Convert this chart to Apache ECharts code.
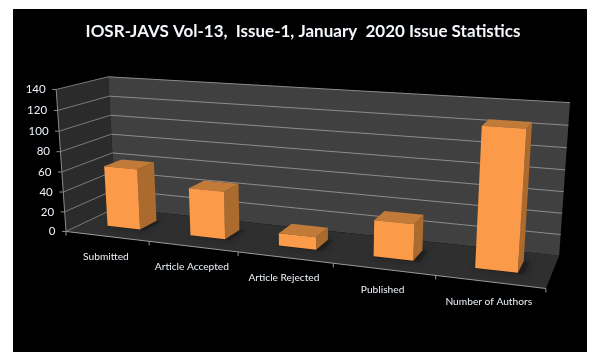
<!DOCTYPE html>
<html><head><meta charset="utf-8">
<style>html,body{margin:0;padding:0;background:#fff}#c{width:601px;height:363px}</style>
<script src="https://cdn.jsdelivr.net/npm/echarts@6/dist/echarts.min.js"></script>
</head><body><div id="c"></div>
<script>
var titleText = 'IOSR-JAVS Vol-13,  Issue-1, January  2020 Issue Statistics';
var categories = ['Submitted','Article Accepted','Article Rejected','Published','Number of Authors'];
var values = [61, 47, 12, 34, 126];
var yTicks = [0,20,40,60,80,100,120,140];
var yMax = 140;

// Camera calibration: [u 0..1 along categories, v 0..1 of value axis, w 0..1 depth] -> screen
var calib = [
 [0,0,0,66,231],[0,1,0,56.7,90],[0,0,1,116,209],[0,1,1,107.7,76],
 [1,0,1,559,255],[1,1,1,570,103],[1,0,0,546,289],
 [.2,0,0,148,241],[.4,0,0,238.7,252],[.6,0,0,333,263],[.8,0,0,436,275.5]
];
function solveCamera(pts){
  var A=[],b=[];
  pts.forEach(function(p){var u=p[0],v=p[1],w=p[2],X=p[3],Y=p[4];
    A.push([u,v,w,1,0,0,0,0,-X*u,-X*v,-X*w]);b.push(X);
    A.push([0,0,0,0,u,v,w,1,-Y*u,-Y*v,-Y*w]);b.push(Y);});
  var n=11,M=[],i,j,k;
  for(i=0;i<n;i++){M.push([]);for(j=0;j<=n;j++){var s=0;for(k=0;k<A.length;k++)s+=A[k][i]*(j<n?A[k][j]:b[k]);M[i].push(s);}}
  for(i=0;i<n;i++){var m=i;for(k=i+1;k<n;k++)if(Math.abs(M[k][i])>Math.abs(M[m][i]))m=k;
    var t=M[i];M[i]=M[m];M[m]=t;
    for(k=0;k<n;k++)if(k!==i){var f=M[k][i]/M[i][i];for(j=i;j<=n;j++)M[k][j]-=f*M[i][j];}}
  return M.map(function(r,i){return r[n]/r[i];});
}
var P=solveCamera(calib);
function proj(u,v,w){var d=P[8]*u+P[9]*v+P[10]*w+1;
  return [(P[0]*u+P[1]*v+P[2]*w+P[3])/d,(P[4]*u+P[5]*v+P[6]*w+P[7])/d];}

// Read (category, value) through the hidden cartesian axes, normalised to 0..1
function norm(api,params,cat,val){var c=params.coordSys,p=api.coord([cat,val]);
  return {u:(p[0]-c.x)/c.width,v:1-(p[1]-c.y)/c.height,band:api.size([1,0])[0]/c.width};}
function poly(points,fill,extra){var s={fill:fill};if(extra)for(var k in extra)s[k]=extra[k];
  return {type:'polygon',shape:{points:points},style:s};}
function line(a,b,color,w){return {type:'line',shape:{x1:a[0],y1:a[1],x2:b[0],y2:b[1]},style:{stroke:color,lineWidth:w||1,fill:null}};}

var BW=0.40, W0=0.34, W1=0.70;

function renderFrame(){
  return {type:'group',children:[
    poly([proj(0,0,0),proj(0,1,0),proj(0,1,1),proj(0,0,1)],'#2b2b2b'),
    poly([proj(0,0,1),proj(0,1,1),proj(1,1,1),proj(1,0,1)],'#404040'),
    poly([proj(0,0,0),proj(0,0,1),proj(1,0,1),proj(1,0,0)],'#2f2f2f')
  ]};
}
function renderGrid(params,api){
  var n=norm(api,params,0,api.value(0)),v=n.v,kids=[];
  var col='#8c8c8c';
  if(v>0){kids.push(line(proj(0,v,1),proj(1,v,1),col));}
  kids.push(line(proj(0,v,0),proj(0,v,1),'#7a7a7a'));
  var a=proj(0,v,0);kids.push(line([a[0]-4,a[1]],a,'#8c8c8c'));
  return {type:'group',children:kids};
}
function renderEdges(){
  var kids=[line(proj(0,0,0),proj(0,1,0),'#8a8a8a'),line(proj(0,0,0),proj(1,0,0),'#9a9a9a')];
  for(var i=0;i<=categories.length;i++){var u=i/categories.length,a=proj(u,0,0);kids.push(line(a,[a[0],a[1]+4],'#9a9a9a'));}
  return {type:'group',children:kids};
}
function barShape(params,api){
  var i=api.value(0),t=norm(api,params,i,api.value(1)),h=BW*t.band/2;
  return {u0:t.u-h,u1:t.u+h,v:t.v};
}
function renderShadow(params,api){
  var b=barShape(params,api);
  return poly([proj(b.u0,0,W0-.02),proj(b.u0,0,W1),proj(b.u1+.012,0,W1),proj(b.u1+.012,0,W0-.02)],'rgba(20,20,20,.4)',{shadowBlur:9,shadowColor:'rgba(10,10,10,.8)'});
}
function renderBar(params,api){
  var b=barShape(params,api);
  var f=[proj(b.u0,0,W0),proj(b.u1,0,W0),proj(b.u1,b.v,W0),proj(b.u0,b.v,W0)];
  var s=[proj(b.u1,0,W0),proj(b.u1,0,W1),proj(b.u1,b.v,W1),proj(b.u1,b.v,W0)];
  var t=[proj(b.u0,b.v,W0),proj(b.u1,b.v,W0),proj(b.u1,b.v,W1),proj(b.u0,b.v,W1)];
  return {type:'group',children:[poly(s,'#ab6a2e'),poly(t,'#c27a38'),poly(f,'#fb9a49')]};
}
function renderCatLabel(params,api){
  var i=api.value(0),n=norm(api,params,i,0),a=proj(n.u,0,0);
  return {type:'text',style:{text:categories[i],x:a[0]-1,y:a[1]+20,align:'center',verticalAlign:'middle',fill:'#eef4fb',font:'10.2px Lato'}};
}
function renderValLabel(params,api){
  var n=norm(api,params,0,api.value(0)),a=proj(0,n.v,0);
  return {type:'text',style:{text:String(api.value(0)),x:a[0]-10.5,y:a[1],align:'right',verticalAlign:'middle',fill:'#eef4fb',font:'11.5px Lato'}};
}
var barData=categories.map(function(c,i){return [i,values[i]];});
var catIdx=categories.map(function(c,i){return [i];});
var tickData=yTicks.map(function(v){return [v];});
function custom(name,render,data,z,encode){return {type:'custom',name:name,renderItem:render,data:data,z:z,clip:false,silent:true,animation:false,encode:encode||{}};}

var chart=echarts.init(document.getElementById('c'),null,{renderer:'canvas'});
chart.setOption({
  animation:false,
  backgroundColor:'#ffffff',
  graphic:[{type:'rect',z:-10,silent:true,shape:{x:13,y:9,width:574,height:343},style:{fill:'#000'}}],
  title:{text:titleText,left:298,textAlign:'center',top:18,textStyle:{color:'#f4f8fd',fontFamily:'Lato',fontWeight:'bold',fontSize:17}},
  tooltip:{show:false},
  grid:{left:0,right:0,top:0,bottom:0,containLabel:false},
  xAxis:{type:'category',data:categories,show:false,boundaryGap:true},
  yAxis:{type:'value',min:0,max:yMax,interval:20,show:false},
  series:[
    custom('frame',renderFrame,[[0]],1),
    custom('grid',renderGrid,tickData,2,{y:0}),
    custom('edges',renderEdges,[[0]],3),
    custom('shadow',renderShadow,barData,4,{x:0,y:1}),
    custom('bars',renderBar,barData,5,{x:0,y:1}),
    custom('catLabels',renderCatLabel,catIdx,6,{x:0}),
    custom('valLabels',renderValLabel,tickData,6,{y:0})
  ]
});
</script></body></html>
